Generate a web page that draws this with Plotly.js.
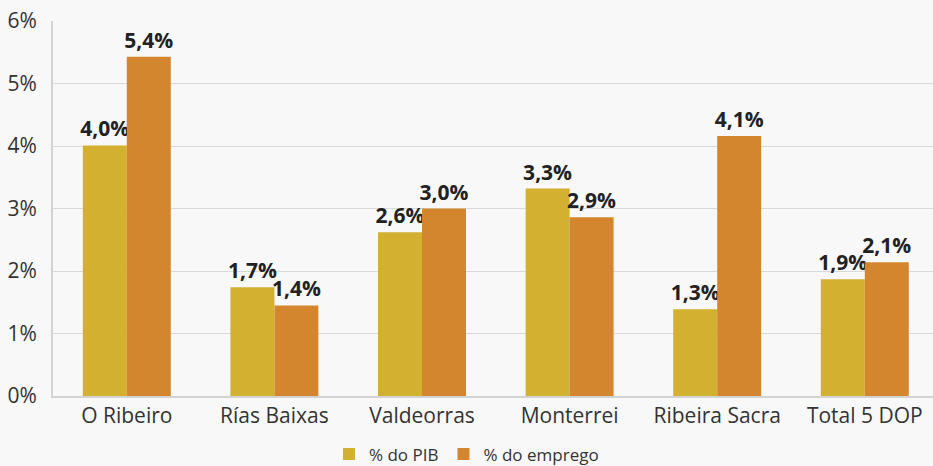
<!DOCTYPE html>
<html>
<head>
<meta charset="utf-8">
<script src="https://cdn.plot.ly/plotly-3.0.1.min.js"></script>
<style>html,body{margin:0;padding:0;background:#f8f8f8;}#chart{width:933px;height:466px;}</style>
</head>
<body>
<div id="chart"></div>
<script>
const categories = ["O Ribeiro", "Rías Baixas", "Valdeorras", "Monterrei", "Ribeira Sacra", "Total 5 DOP"];
const pibValues = [4.01, 1.74, 2.62, 3.32, 1.39, 1.87];
const empregoValues = [5.43, 1.45, 3.0, 2.86, 4.16, 2.14];
const pibLabels = ["4,0%", "1,7%", "2,6%", "3,3%", "1,3%", "1,9%"];
const empregoLabels = ["5,4%", "1,4%", "3,0%", "2,9%", "4,1%", "2,1%"];
const yTickVals = [0, 1, 2, 3, 4, 5, 6];
const yTickText = ["0%", "1%", "2%", "3%", "4%", "5%", "6%"];

const font = "'Open Sans', 'Noto Sans', sans-serif";
const labelFont = {family: font, size: 21, color: "#222222", weight: 700};

const traces = [
  {type: "bar", name: "% do PIB", x: categories, y: pibValues, text: pibLabels,
   textposition: "outside", textfont: labelFont, cliponaxis: false, constraintext: "none",
   marker: {color: "#D3B02F"}, hoverinfo: "skip"},
  {type: "bar", name: "% do emprego", x: categories, y: empregoValues, text: empregoLabels,
   textposition: "outside", textfont: labelFont, cliponaxis: false, constraintext: "none",
   marker: {color: "#D4862E"}, hoverinfo: "skip"}
];

const layout = {
  width: 933, height: 466,
  paper_bgcolor: "#f8f8f8", plot_bgcolor: "#f8f8f8",
  margin: {l: 53, r: 0, t: 21, b: 70, autoexpand: false},
  barmode: "group", bargap: 0.404, bargroupgap: 0,
  font: {family: font, color: "#333333"},
  xaxis: {range: [-0.5, 5.462], showline: true, linecolor: "#d3d3d3", linewidth: 2,
          tickfont: {size: 21, color: "#333333"},
          ticks: "", showgrid: false, fixedrange: true},
  yaxis: {range: [0, 6], tickvals: yTickVals, ticktext: yTickText, showline: true,
          linecolor: "#d3d3d3", linewidth: 2, gridcolor: "#d9d9d9", gridwidth: 1,
          tickfont: {size: 21, color: "#333333"}, ticks: "", ticklabelstandoff: 10,
          zeroline: false, fixedrange: true},
  legend: {orientation: "h", x: 0.5, xanchor: "center", xref: "container",
           y: 0.025, yanchor: "middle", yref: "container",
           font: {size: 17, color: "#333333"}, itemwidth: 30},
  showlegend: true
};

Plotly.newPlot("chart", traces, layout, {displayModeBar: false, staticPlot: true});
</script>
</body>
</html>
